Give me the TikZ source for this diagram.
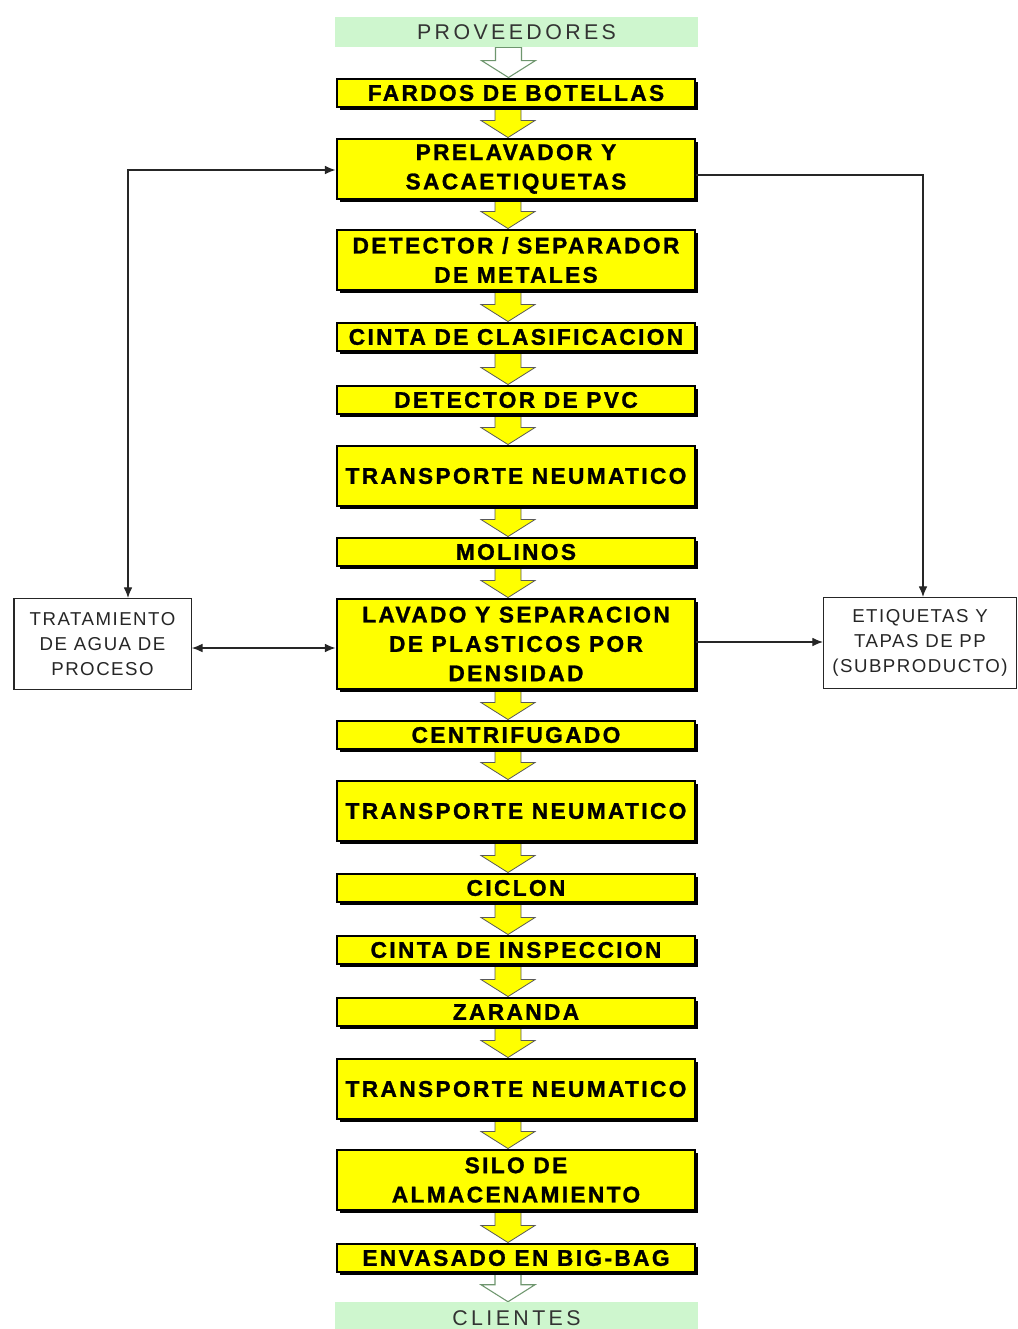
\documentclass[tikz,border=0pt]{standalone}
\usepackage{fontspec}
\setmainfont{Liberation Sans}
\newfontfamily\stepfont[LetterSpace=10.5, BoldFeatures={FakeBold=1.2}]{Liberation Sans}
\newfontfamily\sidefont[LetterSpace=8]{Liberation Sans}
\newfontfamily\endfont[LetterSpace=16]{Liberation Sans}
\usetikzlibrary{arrows.meta,shadows,calc,backgrounds}
\definecolor{stepyellow}{RGB}{255,255,0}
\definecolor{endgreen}{RGB}{206,246,206}
\definecolor{endarrow}{RGB}{110,150,110}

% block arrow from the bottom of one box to the top of the next
\newcommand\flowarrow[3]{%
  \path[#3] let \p1=(#1.south), \p2=(#2.north) in
    (\x1-15.75pt,\y1) -- (\x1+3.75pt,\y1) -- (\x1+3.75pt,\y2+12.75pt)
    -- (\x1+14.25pt,\y2+12.75pt) -- (\x1-6pt,\y2)
    -- (\x1-26.25pt,\y2+12.75pt) -- (\x1-15.75pt,\y2+12.75pt) -- cycle;}

\begin{document}
\begin{tikzpicture}[x=0.75pt,y=-0.75pt,
  stepbox/.style={draw=black, line width=2.2pt, fill=stepyellow,
    minimum width=268.5pt, inner sep=0pt, align=center,
    font=\stepfont\bfseries\fontsize{17}{22}\selectfont,
    drop shadow={opacity=1, fill=black, shadow xshift=2.6pt, shadow yshift=-2.6pt}},
  one/.style={minimum height=21pt},
  two/.style={minimum height=45pt},
  three/.style={minimum height=67.5pt},
  endbox/.style={fill=endgreen, minimum width=272pt, minimum height=22.5pt,
    inner sep=0pt, text=black!80, font=\endfont\fontsize{16}{18}\selectfont},
  sidebox/.style={draw=black!85, line width=1pt, fill=white, inner sep=0pt,
    minimum height=68pt, align=center, text=black!85,
    font=\sidefont\fontsize{14}{19}\selectfont},
  yarrow/.style={fill=stepyellow, draw=black!65, line width=0.6pt},
  garrow/.style={fill=white, draw=endarrow, line width=0.8pt},
  conn/.style={draw=black!85, line width=0.9pt},
  tip/.style={-{Latex[length=8pt,width=6.5pt]}},
  tips/.style={{Latex[length=8pt,width=6.5pt]}-{Latex[length=8pt,width=6.5pt]}}]

\begin{scope}[on background layer]
  \fill[white] (0,0) rectangle (1018,1329);
\end{scope}
\useasboundingbox (0,0) rectangle (1018,1329);

% main line of process steps
\node[endbox] (prov) at (516.5,32) {PROVEEDORES};
\node[stepbox,one] (s1) at (516,93) {FARDOS DE BOTELLAS};
\node[stepbox,two] (s2) at (516,169) {PRELAVADOR Y\\SACAETIQUETAS};
\node[stepbox,two] (s3) at (516,260) {DETECTOR / SEPARADOR\\DE METALES};
\node[stepbox,one] (s4) at (516,337) {CINTA DE CLASIFICACION};
\node[stepbox,one] (s5) at (516,400) {DETECTOR DE PVC};
\node[stepbox,two] (s6) at (516,476) {TRANSPORTE NEUMATICO};
\node[stepbox,one] (s7) at (516,552) {MOLINOS};
\node[stepbox,three] (s8) at (516,644) {LAVADO Y SEPARACION\\DE PLASTICOS POR\\DENSIDAD};
\node[stepbox,one] (s9) at (516,735) {CENTRIFUGADO};
\node[stepbox,two] (s10) at (516,811) {TRANSPORTE NEUMATICO};
\node[stepbox,one] (s11) at (516,888) {CICLON};
\node[stepbox,one] (s12) at (516,950) {CINTA DE INSPECCION};
\node[stepbox,one] (s13) at (516,1012) {ZARANDA};
\node[stepbox,two] (s14) at (516,1089) {TRANSPORTE NEUMATICO};
\node[stepbox,two] (s15) at (516,1180) {SILO DE\\ALMACENAMIENTO};
\node[stepbox,one] (s16) at (516,1258) {ENVASADO EN BIG-BAG};
\node[endbox, minimum height=24pt] (cli) at (516.5,1318) {CLIENTES};

% side boxes
\node[sidebox, minimum width=133pt] (agua) at (102.5,644) {TRATAMIENTO\\DE AGUA DE\\PROCESO};
\node[sidebox, minimum width=144.5pt] (etq) at (920,643) {ETIQUETAS Y\\TAPAS DE PP\\(SUBPRODUCTO)};

% block arrows between the steps
\begin{scope}[on background layer]
  \flowarrow{prov}{s1}{garrow}
  \foreach \a/\b in {s1/s2,s2/s3,s3/s4,s4/s5,s5/s6,s6/s7,s7/s8,s8/s9,
                     s9/s10,s10/s11,s11/s12,s12/s13,s13/s14,s14/s15,s15/s16}
    {\flowarrow{\a}{\b}{yarrow}}
  \flowarrow{s16}{cli}{garrow}
\end{scope}

% side connectors
\coordinate (lc) at (128,170);
\coordinate (rc) at (923,175);
\draw[conn,tips] (agua.north -| lc) -- (lc) -- (s2.west |- lc);
\draw[conn,tip] (s2.east |- rc) -- (rc) -- (etq.north -| rc);
\coordinate (lh) at (0,648);
\coordinate (rh) at (0,642);
\draw[conn,tips] (agua.east |- lh) -- (s8.west |- lh);
\draw[conn,tip] (s8.east |- rh) -- (etq.west |- rh);
\end{tikzpicture}
\end{document}
